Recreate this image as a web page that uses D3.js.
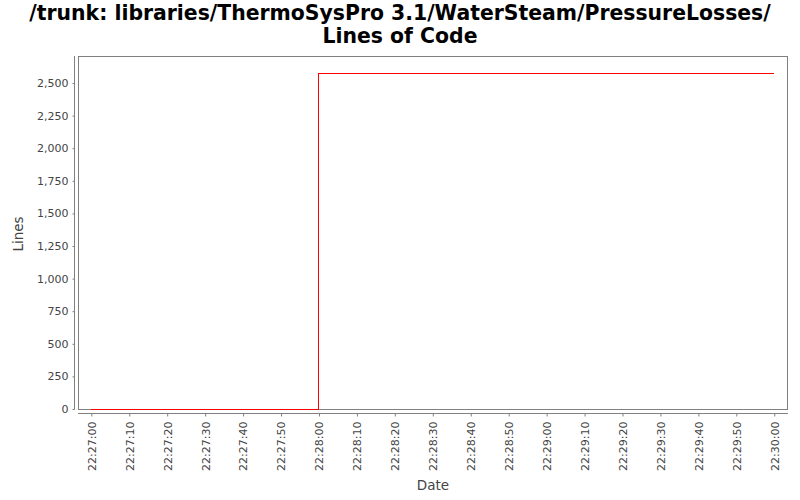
<!DOCTYPE html>
<html><head><meta charset="utf-8">
<script src="https://cdn.jsdelivr.net/npm/d3@7"></script>
<style>body{margin:0;background:#fff}svg{display:block}</style>
</head><body>
<svg id="c" width="800" height="500"></svg>
<script>
const titleLines = ["/trunk: libraries/ThermoSysPro 3.1/WaterSteam/PressureLosses/", "Lines of Code"];
const times = ["22:27:00", "22:28:00", "22:30:00"];
const values = [0, 2574, 2574];
const yTicks = [0, 250, 500, 750, 1000, 1250, 1500, 1750, 2000, 2250, 2500];
const xTickLabels = ["22:27:00","22:27:10","22:27:20","22:27:30","22:27:40","22:27:50","22:28:00","22:28:10","22:28:20","22:28:30","22:28:40","22:28:50","22:29:00","22:29:10","22:29:20","22:29:30","22:29:40","22:29:50","22:30:00"];

const parse = d3.timeParse("%H:%M:%S");
const fmt = d3.timeFormat("%H:%M:%S");
const data = times.map((t, i) => ({t: parse(t), v: values[i]}));

const svg = d3.select("#c");
const L = 78, R = 788, T = 56, B = 409;
const t0 = parse("22:27:00"), t1 = parse("22:30:00");
const span = t1 - t0;
const x = d3.scaleTime().domain([new Date(+t0 - span*0.0195), new Date(+t1 + span*0.0201)]).range([L, R]);
const y = d3.scaleLinear().domain([0, 2707]).range([B, T]);

const font = "DejaVu Sans, sans-serif";
const tg = svg.append("g").attr("font-family", font).attr("font-weight", "bold").attr("font-size", 20.4).attr("text-anchor", "middle").attr("fill", "#000");
tg.append("text").attr("x", 400).attr("y", 19.5).text(titleLines[0]);
tg.append("text").attr("x", 400).attr("y", 43).text(titleLines[1]);

// plot box
svg.append("rect").attr("x", L + 0.5).attr("y", T + 0.5).attr("width", R - L - 1).attr("height", B - T).attr("fill", "#fff").attr("stroke", "#808080");

// y axis
const ya = svg.append("g").attr("transform", `translate(74.5,0)`)
  .call(d3.axisLeft(y).tickValues(yTicks).tickSize(2).tickPadding(4).tickFormat(d3.format(",")));
ya.select(".domain").attr("stroke", "#808080").attr("d", `M0,${T}V${B + 0.5}`);
ya.selectAll(".tick line").attr("stroke", "#808080");
ya.selectAll("text").attr("font-family", font).attr("font-size", 11).attr("fill", "#444");

// x axis
const xa = svg.append("g").attr("transform", `translate(0,413.5)`)
  .call(d3.axisBottom(x).tickValues(xTickLabels.map(parse)).tickSize(3).tickFormat(fmt));
xa.select(".domain").attr("stroke", "#808080").attr("d", `M${L},0H${R}`);
xa.selectAll(".tick line").attr("stroke", "#808080");
xa.selectAll("text").attr("font-family", font).attr("font-size", 11).attr("fill", "#444")
  .attr("transform", "rotate(-90)").attr("text-anchor", "end").attr("dy", "0.35em").attr("x", -8).attr("y", 0);

// line
const line = d3.line().x(d => x(d.t)).y(d => y(d.v)).curve(d3.curveStepAfter);
svg.append("path").datum(data).attr("d", line).attr("fill", "none").attr("stroke", "#ff0000").attr("stroke-width", 1)
  .attr("shape-rendering", "crispEdges");

// axis labels
svg.append("text").attr("font-family", font).attr("font-size", 13.5).attr("fill", "#444").attr("text-anchor", "middle")
  .attr("transform", "translate(23,234) rotate(-90)").text("Lines");
svg.append("text").attr("font-family", font).attr("font-size", 13.5).attr("fill", "#444").attr("text-anchor", "middle")
  .attr("x", 433).attr("y", 490).text("Date");
</script>
</body></html>
